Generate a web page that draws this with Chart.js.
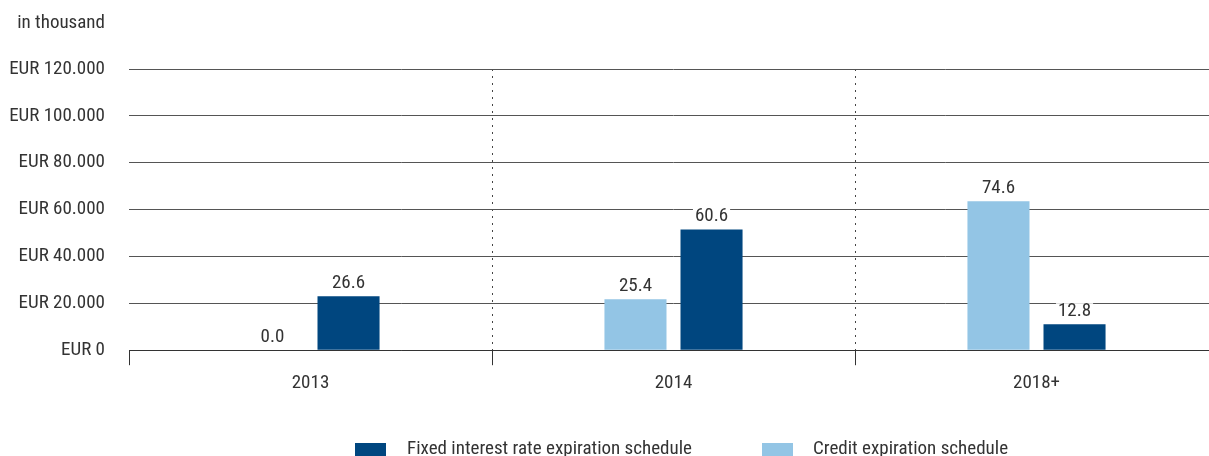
<!DOCTYPE html>
<html>
<head>
<meta charset="utf-8">
<script src="https://cdn.jsdelivr.net/npm/chart.js@4/dist/chart.umd.min.js"></script>
<style>
  body { margin: 0; overflow: hidden; background: #fff; font-family: "Roboto Condensed", "Liberation Sans", sans-serif; }
  #wrap { position: relative; width: 1218px; height: 456px; }
  #unit { position: absolute; left: 0; top: 12px; width: 105px; text-align: right; height: 20px; line-height: 20px; font-size: 19px; color: #333; }
  .legend-item { position: absolute; top: 438px; height: 20px; line-height: 20px; font-size: 19px; color: #333; white-space: nowrap; }
  .legend-box { position: absolute; top: 443px; width: 31px; height: 13px; }
</style>
</head>
<body>
<div id="wrap">
  <canvas id="chart"></canvas>
  <div id="unit">in thousand</div>
  <div id="legend"></div>
</div>
<script>
// categories
var years = ["2013", "2014", "2018+"];
// bar heights as drawn (EUR)
var creditBars = [0, 21700, 63600];
var fixedBars = [23000, 51500, 11100];
// value labels printed above the bars
var creditLabels = ["0.0", "25.4", "74.6"];
var fixedLabels = ["26.6", "60.6", "12.8"];
// y axis ticks
var yTicks = [0, 20000, 40000, 60000, 80000, 100000, 120000];

var darkBlue = "#00467f";
var lightBlue = "#93c5e5";
var textColor = "#333333";
var fontFam = "'Roboto Condensed', 'Liberation Sans', sans-serif";

function eur(v) {
  return "EUR " + String(v).replace(/\B(?=(\d{3})+(?!\d))/g, ".");
}

// Werte über den Balken zeichnen
var valueLabels = {
  id: "valueLabels",
  afterDatasetsDraw: function(chart) {
    var ctx = chart.ctx;
    ctx.save();
    ctx.font = "19px " + fontFam;
    ctx.textAlign = "center";
    ctx.textBaseline = "middle";
    chart.data.datasets.forEach(function(ds, di) {
      var meta = chart.getDatasetMeta(di);
      meta.data.forEach(function(bar, i) {
        var txt = ds.valueText[i];
        var w = ctx.measureText(txt).width;
        var y = bar.y - 13;
        ctx.fillStyle = "#fff";
        ctx.fillRect(bar.x - w / 2 - 2, y - 8, w + 4, 16);
        ctx.fillStyle = textColor;
        ctx.fillText(txt, bar.x, y);
      });
    });
    ctx.restore();
  }
};

var ctx = document.getElementById("chart");
var myChart = new Chart(ctx, {
  type: "bar",
  data: {
    labels: years,
    datasets: [
      {
        label: "Credit expiration schedule",
        backgroundColor: lightBlue,
        data: creditBars,
        valueText: creditLabels
      },
      {
        label: "Fixed interest rate expiration schedule",
        backgroundColor: darkBlue,
        data: fixedBars,
        valueText: fixedLabels
      }
    ]
  },
  options: {
    responsive: true,
    maintainAspectRatio: false,
    animation: false,
    categoryPercentage: 0.419,
    barPercentage: 0.816,
    layout: {
      padding: { left: 0, right: 0, top: 69, bottom: 54 }
    },
    plugins: {
      legend: { display: false },
      tooltip: { enabled: false }
    },
    scales: {
      x: {
        grid: {
          offset: true,
          color: function(c) { return c.index === 0 ? "rgba(0,0,0,0)" : "#444"; },
          tickColor: "#333",
          tickBorderDash: [],
          tickLength: 15,
          lineWidth: 1
        },
        border: { display: true, color: "#333", width: 1, dash: [2, 5] },
        ticks: {
          color: textColor,
          padding: 7,
          font: { family: fontFam, size: 19 }
        }
      },
      y: {
        min: 0,
        max: 120000,
        afterFit: function(scale) { scale.width = 129; },
        afterBuildTicks: function(scale) {
          scale.ticks = yTicks.map(function(v) { return { value: v }; });
        },
        grid: {
          color: "#555",
          lineWidth: 1,
          drawTicks: false
        },
        border: { display: false },
        ticks: {
          color: textColor,
          padding: 24,
          font: { family: fontFam, size: 19 },
          callback: function(v) { return eur(v); }
        }
      }
    }
  },
  plugins: [valueLabels]
});

// Legende (Reihenfolge wie im Original)
var legendItems = [
  { text: "Fixed interest rate expiration schedule", color: darkBlue, box: 355, label: 407 },
  { text: "Credit expiration schedule", color: lightBlue, box: 762, label: 813 }
];
var legendEl = document.getElementById("legend");
legendItems.forEach(function(it) {
  var b = document.createElement("div");
  b.className = "legend-box";
  b.style.left = it.box + "px";
  b.style.background = it.color;
  legendEl.appendChild(b);
  var t = document.createElement("div");
  t.className = "legend-item";
  t.style.left = it.label + "px";
  t.textContent = it.text;
  legendEl.appendChild(t);
});
</script>
</body>
</html>
